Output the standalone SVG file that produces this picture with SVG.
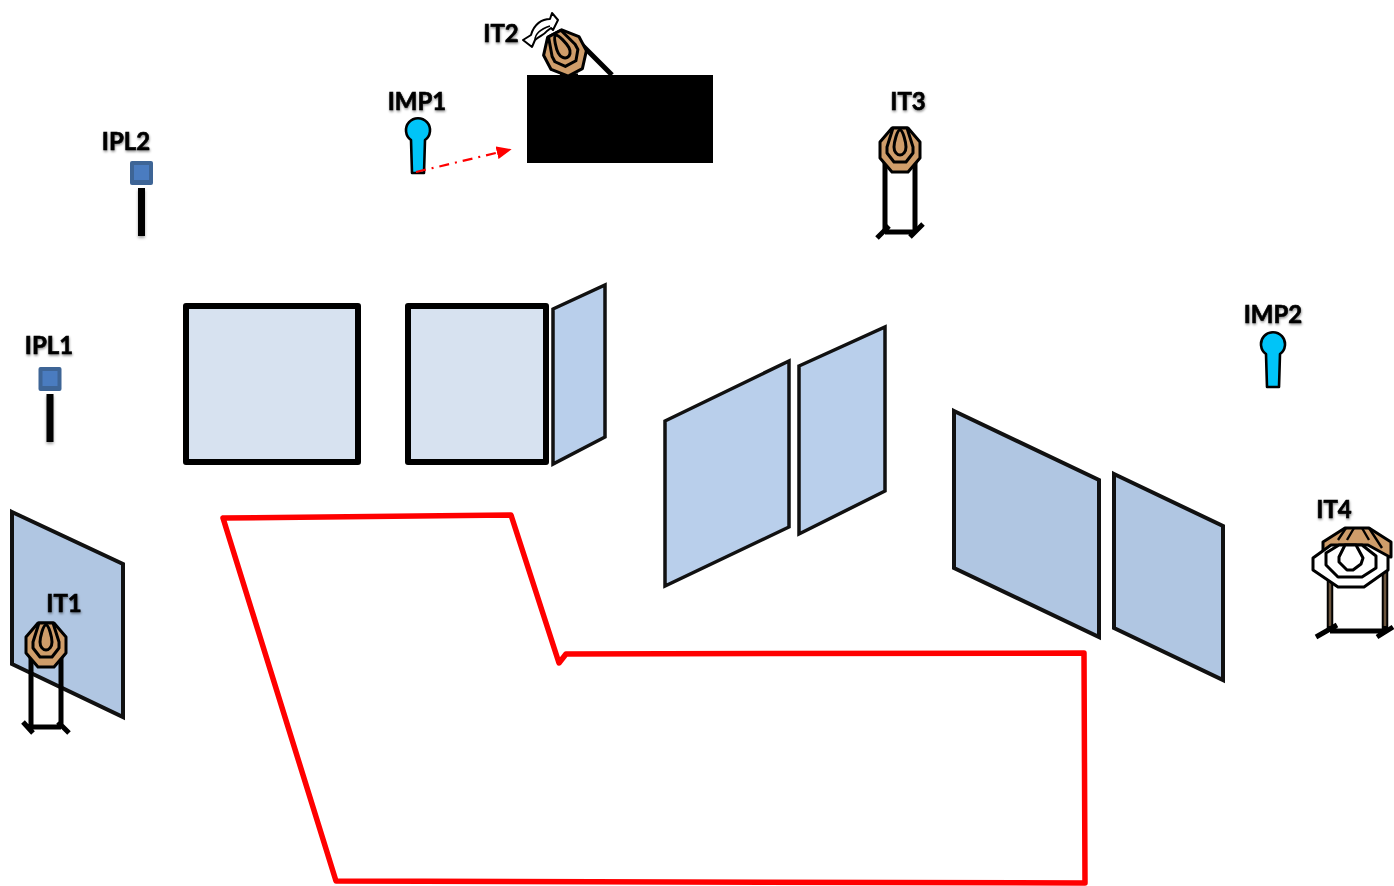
<svg xmlns="http://www.w3.org/2000/svg" width="1394" height="886" viewBox="0 0 1394 886">
<style>
.lbl{font-family:"Lato","Liberation Sans",sans-serif;font-weight:700;font-size:24px;fill:#000;stroke:#000;stroke-width:.6;filter:url(#ts);text-anchor:middle}
.wall2{fill:#b0c6e2;stroke:#111;stroke-width:4}
.wall3{fill:#b9cfeb;stroke:#111;stroke-width:3.5}
.win{fill:#d7e2f0;stroke:#000;stroke-width:6;stroke-linejoin:round}
.t{fill:#cf9d6a;stroke:#000;stroke-width:3;stroke-linejoin:round}
.w{fill:#fff;stroke:#000;stroke-width:3;stroke-linejoin:round}
.leg{fill:none;stroke:#000;stroke-width:5}
.mic{fill:#00c4f8;stroke:#000;stroke-width:2.6;stroke-linejoin:round}
</style>
<defs>
<filter id="ts" x="-20%" y="-20%" width="140%" height="150%"><feDropShadow dx="0.5" dy="1.5" stdDeviation="1.2" flood-color="#000" flood-opacity="0.45"/></filter>
<filter id="bs" x="-100%" y="-20%" width="300%" height="140%"><feDropShadow dx="0" dy="2" stdDeviation="1.5" flood-color="#000" flood-opacity="0.35"/></filter>
<g id="head">
<polygon class="t" points="-8,-22 8,-22 20,-8 20,8 8,22 -8,22 -20,8 -20,-8"/>
<polygon class="t" points="-7,-22 7,-22 13,-3 13,3 6,12 -6,12 -13,3 -13,-3"/>
<path class="t" d="M0,-20 C3,-20 6,-7 6,-3 C6,2 3,5 0,5 C-3,5 -6,2 -6,-3 C-6,-7 -3,-20 0,-20Z"/>
</g>
<g id="stand">
<path class="leg" d="M-15,10V82M15,10V82"/>
<path class="leg" d="M-15,82H15M-23,88L-11,76M10,87L23,74"/>
</g>
<g id="mic">
<path class="mic" d="M-7,-2 A12,12 0 1 1 7,-2 L6,31 L-6,31Z"/>
</g>
<g id="lamp">
<rect x="-11.500" y="-12" width="23" height="24" rx="2" fill="#3e6596"/>
<rect x="-7.500" y="-8" width="15" height="15" fill="#4a7cc0"/>
<rect x="-3.500" y="15" width="7" height="48" fill="#000" filter="url(#bs)"/>
</g>
<marker id="ah" markerWidth="15" markerHeight="13" refX="1" refY="6.500" orient="auto" markerUnits="userSpaceOnUse"><path d="M0,0L15,6.500L0,13Z" fill="#f00"/></marker>
</defs>

<g id="walls">
<polygon class="win" id="window1" points="186,306 358,306 358,462 186,462"/>
<polygon class="win" id="window2" points="408,306 546,306 546,462 408,462"/>
<polygon class="wall3" id="wall-a" points="553,309 605,285 605,437 553,464"/>
<polygon class="wall3" id="wall-b" points="665,421 789,361 789,527 665,586"/>
<polygon class="wall3" id="wall-c" points="799,366 885,327 885,491 799,534"/>
<polygon class="wall2" id="wall-d" points="954,411 1099,480 1099,637 954,568"/>
<polygon class="wall2" id="wall-e" points="1114,474 1223,526 1223,680 1114,628"/>
<polygon class="wall2" id="wall-f" points="12,512 123,564 123,717 12,664"/>
</g>

<g id="floor"><path d="M223,518L511,515L559,663L566,654L1084,653L1085,883L336,881Z" fill="none" stroke="#f00" stroke-width="5.500" stroke-linejoin="round"/></g>

<g id="block"><rect x="527" y="75" width="186" height="88" fill="#000"/></g>

<g id="IT2">
<path d="M582,45L612,75" stroke="#000" stroke-width="5" fill="none"/>
<path d="M560,75H578" stroke="#000" stroke-width="3" fill="none"/>
<g transform="translate(565,53) rotate(-28)"><use href="#head"/></g>
<path d="M523,40L532,47L535,40C539,36 544,35 547,31L551,28L553,30L558,20L552,13L550,19C542,19 534,24 531,35Z" fill="#fff" stroke="#000" stroke-width="2" stroke-linejoin="round"/>
<path d="M535,40C535,34 541,29 550,26" fill="none" stroke="#000" stroke-width="1.500"/>
<text class="lbl" x="501" y="42">IT2</text>
</g>

<g id="IMP1"><use href="#mic" x="418" y="142"/><text class="lbl" x="417" y="110">IMP1</text></g>
<g id="IMP2"><use href="#mic" x="1273" y="356"/><text class="lbl" x="1273" y="323">IMP2</text></g>
<g id="IPL2"><use href="#lamp" x="141.500" y="173"/><text class="lbl" x="126" y="150">IPL2</text></g>
<g id="IPL1"><use href="#lamp" x="50" y="379"/><text class="lbl" x="49" y="354">IPL1</text></g>

<g id="IT3"><use href="#stand" x="900" y="150"/><use href="#head" x="900" y="150"/><text class="lbl" x="908" y="110">IT3</text></g>

<g id="IT1">
<path class="leg" d="M31,655V727M61,655V727M31,727H61M23,722L33,733M58,722L69,733"/>
<use href="#head" x="46" y="645"/>
<text class="lbl" x="64" y="612">IT1</text>
</g>

<g id="IT4">
<path d="M1330,575V630M1385,565V630" stroke="#000" stroke-width="6.500" fill="none"/>
<path d="M1330,575V626M1385,565V626" stroke="#6b553e" stroke-width="2.500" fill="none"/>
<path class="leg" d="M1330,631H1385M1316,637L1337,625M1377,637L1393,627"/>
<polygon class="t" points="1323,542 1345,528 1369,528 1391,542 1391,557 1323,550"/>
<path d="M1347,540L1354,528M1362,528L1369,540M1369,528L1382,548M1338,540L1346,528" stroke="#000" stroke-width="2.400" fill="none"/>
<polygon class="w" points="1313,558 1331,545 1368,545 1388,556 1388,570 1364,587 1338,587 1313,570"/>
<polygon class="w" points="1326,553 1339,545 1362,545 1376,556 1376,568 1362,577 1338,577 1326,565"/>
<polygon class="w" points="1345,545 1356,545 1363,558 1361,564 1353,570 1347,570 1339,562 1339,557"/>
<text class="lbl" x="1334" y="518">IT4</text>
</g>

<g id="connectors">
<path d="M416,172L498,152.500" fill="none" stroke="#f00" stroke-width="2.200" stroke-dasharray="10,6,2,6" marker-end="url(#ah)"/>
</g>
</svg>
